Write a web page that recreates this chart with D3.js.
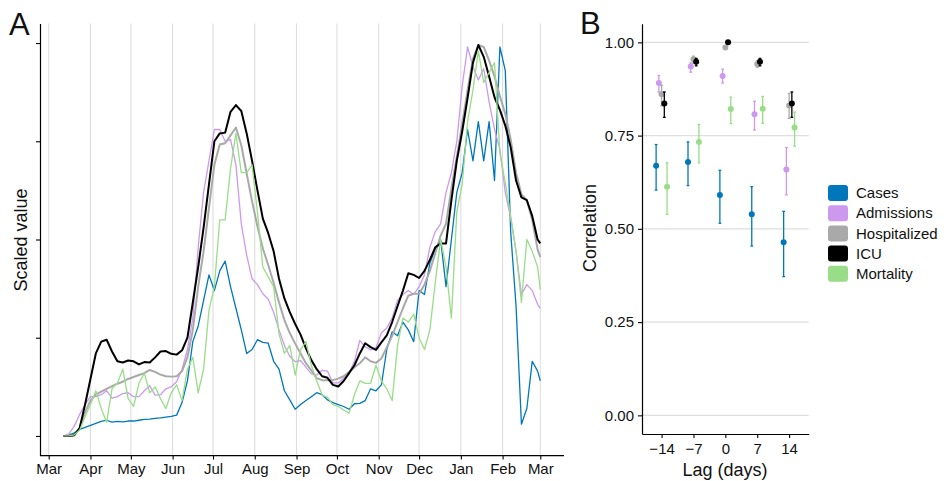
<!DOCTYPE html>
<html>
<head>
<meta charset="utf-8">
<script src="https://cdn.jsdelivr.net/npm/d3@7"></script>
<style>
  body { margin: 0; background: #fff; }
  text { font-family: "Liberation Sans", Arial, sans-serif; fill: #111; }
</style>
</head>
<body>
<div id="chart"></div>
<script>
// ---- panel A data: scaled values, sampled every 4 days from 2020-03-12, last point 2021-03-01
const startDate = '2020-03-12';
const stepDays = 4;
const endDate = '2021-03-01';

const cases = [0, 0.002, 0.008, 0.017, 0.022, 0.027, 0.032, 0.037, 0.04, 0.035,
  0.037, 0.036, 0.038, 0.038, 0.04, 0.042, 0.043, 0.045, 0.046, 0.048,
  0.05, 0.053, 0.085, 0.14, 0.24, 0.28, 0.345, 0.41, 0.37, 0.42,
  0.445, 0.38, 0.325, 0.27, 0.21, 0.22, 0.245, 0.238, 0.236, 0.19,
  0.17, 0.115, 0.092, 0.068, 0.08, 0.09, 0.1, 0.11, 0.105, 0.092,
  0.085, 0.08, 0.075, 0.068, 0.082, 0.083, 0.09, 0.12, 0.115, 0.13,
  0.22, 0.265, 0.255, 0.29, 0.27, 0.24, 0.37, 0.36, 0.44, 0.475,
  0.5, 0.38, 0.5, 0.62, 0.67, 0.78, 0.7, 0.8, 0.7, 0.8,
  0.65, 0.99, 0.93, 0.52, 0.33, 0.03, 0.07, 0.19, 0.165, 0.14];

const admissions = [0, 0.005, 0.025, 0.055, 0.08, 0.1, 0.1, 0.105, 0.115, 0.096,
  0.1, 0.108, 0.11, 0.1, 0.1, 0.115, 0.128, 0.104, 0.105, 0.12,
  0.125, 0.138, 0.17, 0.22, 0.3, 0.48, 0.62, 0.7, 0.78, 0.78,
  0.75, 0.755, 0.69, 0.54, 0.46, 0.4, 0.385, 0.362, 0.348, 0.315,
  0.27, 0.23, 0.203, 0.189, 0.192, 0.175, 0.158, 0.155, 0.167, 0.165,
  0.135, 0.135, 0.147, 0.16, 0.19, 0.243, 0.227, 0.219, 0.225, 0.262,
  0.275, 0.3, 0.345, 0.36, 0.37, 0.36, 0.38, 0.41, 0.48, 0.52,
  0.54, 0.62, 0.67, 0.75, 0.89, 0.99, 0.94, 0.906, 0.935, 0.85,
  0.78, 0.73, 0.62, 0.555, 0.47, 0.36, 0.385, 0.37, 0.335, 0.325];

const hospitalized = [0, 0, 0.003, 0.02, 0.06, 0.09, 0.105, 0.113, 0.12, 0.127,
  0.133, 0.138, 0.145, 0.15, 0.155, 0.16, 0.168, 0.163, 0.156, 0.152,
  0.151, 0.152, 0.165, 0.2, 0.27, 0.38, 0.47, 0.58, 0.69, 0.742,
  0.745, 0.765, 0.785, 0.74, 0.668, 0.597, 0.533, 0.477, 0.435, 0.39,
  0.34, 0.295, 0.262, 0.235, 0.21, 0.185, 0.167, 0.147, 0.142, 0.142,
  0.142, 0.146, 0.152, 0.163, 0.175, 0.185, 0.2, 0.19, 0.186, 0.197,
  0.225, 0.255, 0.29, 0.325, 0.357, 0.362, 0.362, 0.385, 0.42, 0.465,
  0.51, 0.54, 0.63, 0.71, 0.795, 0.88, 0.96, 0.995, 0.99, 0.955,
  0.915, 0.865, 0.82, 0.755, 0.67, 0.615, 0.6, 0.55, 0.475, 0.455];

const icu = [0, 0, 0.002, 0.02, 0.08, 0.145, 0.21, 0.24, 0.245, 0.215,
  0.19, 0.187, 0.192, 0.19, 0.182, 0.188, 0.187, 0.2, 0.215, 0.216,
  0.209, 0.207, 0.218, 0.25, 0.34, 0.43, 0.53, 0.64, 0.75, 0.77,
  0.772, 0.825, 0.842, 0.827, 0.77, 0.70, 0.625, 0.553, 0.516, 0.47,
  0.40, 0.35, 0.315, 0.285, 0.258, 0.223, 0.193, 0.17, 0.152, 0.148,
  0.13, 0.126, 0.14, 0.16, 0.18, 0.21, 0.236, 0.226, 0.219, 0.238,
  0.256, 0.29, 0.33, 0.37, 0.414, 0.41, 0.402, 0.42, 0.448, 0.48,
  0.49, 0.49, 0.6, 0.70, 0.775, 0.86, 0.95, 0.995, 0.965, 0.915,
  0.862, 0.83, 0.79, 0.735, 0.65, 0.607, 0.6, 0.56, 0.50, 0.49];

const mortality = [0, 0, 0.003, 0.015, 0.049, 0.08, 0.115, 0.07, 0.035, 0.12,
  0.135, 0.17, 0.095, 0.075, 0.134, 0.16, 0.11, 0.125, 0.095, 0.07,
  0.11, 0.13, 0.09, 0.17, 0.2, 0.11, 0.17, 0.32, 0.38, 0.55,
  0.55, 0.68, 0.77, 0.67, 0.67, 0.69, 0.57, 0.43, 0.405, 0.38,
  0.26, 0.21, 0.23, 0.155, 0.22, 0.24, 0.18, 0.14, 0.104, 0.098,
  0.08, 0.075, 0.066, 0.058, 0.105, 0.14, 0.134, 0.134, 0.18, 0.14,
  0.12, 0.09, 0.23, 0.3, 0.29, 0.31, 0.25, 0.22, 0.27, 0.39,
  0.5, 0.43, 0.3, 0.57, 0.64, 0.8, 0.88, 0.98, 0.9, 0.925,
  0.95, 0.72, 0.645, 0.56, 0.47, 0.34, 0.5, 0.47, 0.43, 0.372];

// ---- panel B data: correlation by lag, with lower/upper interval
const lags = [-14, -7, 0, 7, 14];
const casesCor = [0.669, 0.679, 0.591, 0.539, 0.464];
const casesLo = [0.604, 0.616, 0.515, 0.454, 0.372];
const casesHi = [0.726, 0.733, 0.657, 0.613, 0.547];
const admissionsCor = [0.891, 0.935, 0.910, 0.807, 0.659];
const admissionsLo = [0.867, 0.920, 0.891, 0.765, 0.591];
const admissionsHi = [0.911, 0.945, 0.928, 0.842, 0.718];
const hospitalizedCor = [0.861, 0.955, 0.986, 0.942, 0.831];
const hospitalizedLo = [0.830, 0.944, 0.982, 0.933, 0.796];
const hospitalizedHi = [0.885, 0.963, 0.990, 0.951, 0.863];
const icuCor = [0.836, 0.948, 1.0, 0.948, 0.836];
const icuLo = [0.799, 0.937, 0.999, 0.937, 0.799];
const icuHi = [0.867, 0.957, 1.0, 0.957, 0.867];
const mortalityCor = [0.613, 0.733, 0.821, 0.822, 0.772];
const mortalityLo = [0.539, 0.677, 0.782, 0.783, 0.722];
const mortalityHi = [0.677, 0.780, 0.853, 0.855, 0.813];

const seriesNames = ['Cases', 'Admissions', 'Hospitalized', 'ICU', 'Mortality'];
const colors = ['#0077BB', '#CC99EE', '#A9A9A9', '#000000', '#99DD88'];

const parse = d3.utcParse('%Y-%m-%d');
const dates = d3.utcDay.range(parse(startDate), d3.utcDay.offset(parse(endDate), -1), stepDays);
dates.push(parse(endDate));

const lineSeries = [cases, admissions, hospitalized, icu, mortality];
const corSeries = [
  { est: casesCor, lo: casesLo, hi: casesHi },
  { est: admissionsCor, lo: admissionsLo, hi: admissionsHi },
  { est: hospitalizedCor, lo: hospitalizedLo, hi: hospitalizedHi },
  { est: icuCor, lo: icuLo, hi: icuHi },
  { est: mortalityCor, lo: mortalityLo, hi: mortalityHi },
];

const svg = d3.select('#chart').append('svg')
  .attr('width', 944)
  .attr('height', 481);

// ================= panel A =================
const xA = d3.scaleUtc()
  .domain([parse('2020-03-01'), parse('2021-03-01')])
  .range([48.7, 540.3]);
const yA = d3.scaleLinear().domain([-0.05, 1.05]).range([455.6, 23.4]);

const gA = svg.append('g');
const months = d3.utcMonth.range(parse('2020-03-01'), parse('2021-03-02'));

gA.selectAll('.vgrid')
  .data(months)
  .enter()
  .append('line')
  .attr('x1', (d) => xA(d))
  .attr('x2', (d) => xA(d))
  .attr('y1', yA.range()[1])
  .attr('y2', yA.range()[0])
  .attr('stroke', '#DEDEDE')
  .attr('stroke-width', 1.1);

const line = d3.line()
  .x((d, i) => xA(dates[i]))
  .y((d) => yA(d));

lineSeries.forEach((s, k) => {
  gA.append('path')
    .datum(s)
    .attr('d', line)
    .attr('fill', 'none')
    .attr('stroke', colors[k])
    .attr('stroke-width', (k === 2 || k === 3) ? 2 : 1.3)
    .attr('stroke-linejoin', 'round');
});

const xAxisA = gA.append('g')
  .attr('transform', `translate(0,${yA.range()[0]})`)
  .call(d3.axisBottom(xA).tickValues(months).tickFormat(d3.utcFormat('%b')).tickSize(4).tickPadding(4));
xAxisA.select('.domain').remove();
gA.append('line')
  .attr('x1', 40).attr('x2', 564)
  .attr('y1', yA.range()[0]).attr('y2', yA.range()[0])
  .attr('stroke', '#000').attr('stroke-width', 1.2);

const yAxisA = gA.append('g')
  .attr('transform', 'translate(40,0)')
  .call(d3.axisLeft(yA).tickValues([0, 0.25, 0.5, 0.75, 1]).tickFormat('').tickSize(4).tickSizeOuter(0));

gA.append('text')
  .attr('transform', 'translate(27,240) rotate(-90)')
  .attr('text-anchor', 'middle')
  .style('font-size', '18px')
  .text('Scaled value');

gA.append('text')
  .attr('x', 9).attr('y', 35)
  .style('font-size', '31px')
  .text('A');

// ================= panel B =================
const xB = d3.scaleLinear().domain([-18.3, 18.3]).range([642, 808.7]);
const yB = d3.scaleLinear().domain([-0.05, 1.05]).range([434, 23.7]);
const dodge = 0.6;

const gB = svg.append('g');
const yTicksB = [0, 0.25, 0.5, 0.75, 1];

gB.selectAll('.hgrid')
  .data(yTicksB)
  .enter()
  .append('line')
  .attr('x1', 642).attr('x2', 808.7)
  .attr('y1', (d) => yB(d)).attr('y2', (d) => yB(d))
  .attr('stroke', '#DEDEDE')
  .attr('stroke-width', 1.1);

corSeries.forEach((s, k) => {
  const off = (k - 2) * dodge;
  const g = gB.append('g').attr('stroke', colors[k]).attr('fill', colors[k]);
  lags.forEach((lag, i) => {
    const cx = xB(lag + off);
    g.append('line')
      .attr('x1', cx).attr('x2', cx)
      .attr('y1', yB(s.lo[i])).attr('y2', yB(s.hi[i]))
      .attr('stroke-width', 1.3);
    [s.lo[i], s.hi[i]].forEach((v) => {
      g.append('line')
        .attr('x1', cx - 1.4).attr('x2', cx + 1.4)
        .attr('y1', yB(v)).attr('y2', yB(v))
        .attr('stroke-width', 1.3);
    });
    g.append('circle')
      .attr('cx', cx).attr('cy', yB(s.est[i]))
      .attr('r', 3)
      .attr('stroke', 'none');
  });
});

const xAxisB = gB.append('g')
  .attr('transform', `translate(0,${yB.range()[0]})`)
  .call(d3.axisBottom(xB).tickValues(lags).tickFormat(d3.format('d')).tickSize(4).tickSizeOuter(0).tickPadding(5));
const yAxisB = gB.append('g')
  .attr('transform', 'translate(642,0)')
  .call(d3.axisLeft(yB).tickValues(yTicksB).tickFormat(d3.format('.2f')).tickSize(4).tickSizeOuter(0).tickPadding(4));

gB.append('text')
  .attr('transform', 'translate(596,228) rotate(-90)')
  .attr('text-anchor', 'middle')
  .style('font-size', '18px')
  .text('Correlation');

gB.append('text')
  .attr('x', 725).attr('y', 476)
  .attr('text-anchor', 'middle')
  .style('font-size', '18px')
  .text('Lag (days)');

gB.append('text')
  .attr('x', 580).attr('y', 34)
  .style('font-size', '31px')
  .text('B');

// axis styling shared by both panels
[xAxisA, yAxisA, xAxisB, yAxisB].forEach((ax) => {
  ax.selectAll('.domain').attr('stroke', '#000').attr('stroke-width', 1.2);
  ax.selectAll('.tick line').attr('stroke', '#000').attr('stroke-width', 1.1);
  ax.selectAll('.tick text')
    .style('font-size', '15px')
    .style('font-family', '"Liberation Sans", Arial, sans-serif')
    .attr('fill', '#1a1a1a');
});

// ================= legend =================
const legend = svg.append('g').attr('transform', 'translate(828,193)');
seriesNames.forEach((name, k) => {
  const row = legend.append('g').attr('transform', `translate(0,${k * 20.2})`);
  row.append('rect')
    .attr('x', 0).attr('y', -8)
    .attr('width', 20).attr('height', 16)
    .attr('rx', 3)
    .attr('fill', colors[k]);
  row.append('text')
    .attr('x', 28).attr('y', 0)
    .attr('dy', '0.35em')
    .style('font-size', '15px')
    .text(name);
});
</script>
</body>
</html>
